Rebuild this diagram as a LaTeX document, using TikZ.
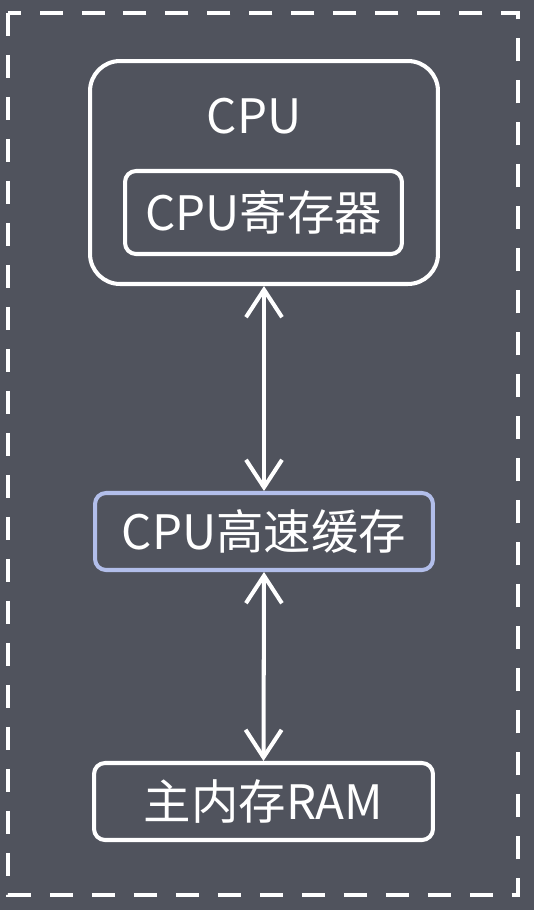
\documentclass[tikz,border=0pt]{standalone}
\usepackage{fontspec}
\newfontfamily\cjk{Noto Sans CJK SC}
\usepackage{tikz}
\usetikzlibrary{arrows.meta}
\definecolor{bggray}{HTML}{50535D}
\definecolor{cacheblue}{HTML}{B2BEEA}
\newcommand{\boxline}{2.3pt}

\begin{document}
\begin{tikzpicture}[x=0.02cm, y=-0.02cm,
    membox/.style={draw=white, line width=\boxline, rounded corners=0.22cm,
      inner sep=0pt, font=\cjk\fontsize{27}{31}\selectfont, text=white},
    dblarrow/.style={draw=white, line width=\boxline,
      {Straight Barb[length=0.55cm, width=0.72cm]}-{Straight Barb[length=0.55cm, width=0.72cm]}}]

        \fill[bggray] (0,0) rectangle (534,910);
        \useasboundingbox (0,0) rectangle (534,910);
        \draw[white, line width=2.8pt, dash pattern=on 0.46cm off 0.38cm]
          (8,13) rectangle (518,895);

        \node (cpu) at (264,172.5) [membox, rounded corners=0.6cm,
          minimum width=6.96cm, minimum height=4.46cm] {};
        \node (cpulabel) at (254,116) [text=white, font=\cjk\fontsize{27}{31}\selectfont] {CPU};
        \node (reg) at (263.5,212.5) [membox,
          minimum width=5.54cm, minimum height=1.66cm] {CPU寄存器};
        \node (cache) at (264,531.5) [membox, draw=cacheblue,
          minimum width=6.76cm, minimum height=1.54cm] {CPU高速缓存};
        \node (ram) at (263.5,801.5) [membox,
          minimum width=6.78cm, minimum height=1.54cm] {主内存RAM};

        \draw[dblarrow] (cpu.south) to (cache.north);
        \draw[dblarrow] (cache.south) to (ram.north);
    \end{tikzpicture}
\end{document}
